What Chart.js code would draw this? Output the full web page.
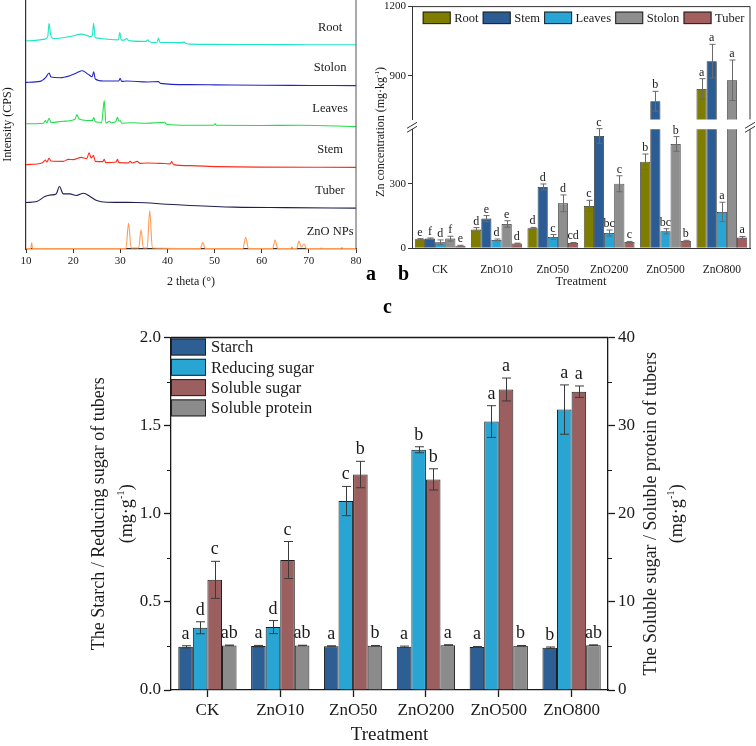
<!DOCTYPE html>
<html>
<head>
<meta charset="utf-8">
<title>ZnO NPs figure</title>
<script src="https://cdn.jsdelivr.net/npm/chart.js@4.4.1/dist/chart.umd.min.js"></script>
<style>
  html, body { margin:0; padding:0; background:#fff; }
  #fig { position:relative; width:756px; height:746px; overflow:hidden; background:#fff; }
  #fig canvas { position:absolute; }
  .panel-tag { position:absolute; font-family:'Liberation Serif','Times New Roman',serif; font-weight:bold; font-size:20px; line-height:20px; color:#000; }
</style>
</head>
<body>
<div id="fig">
  <canvas id="xrd" width="370" height="290" style="left:0;top:0;"></canvas>
  <canvas id="znLow" width="386" height="290" style="left:370px;top:0;"></canvas>
  <canvas id="znUp" width="386" height="130" style="left:370px;top:-2px;"></canvas>
  <canvas id="tuber" width="756" height="446" style="left:0;top:300px;"></canvas>
  <div class="panel-tag" style="left:366px;top:263px;">a</div>
  <div class="panel-tag" style="left:398px;top:263px;">b</div>
  <div class="panel-tag" style="left:383px;top:296px;">c</div>
</div>
<script>
// ================= DATA =================
// ---- Panel a: XRD patterns (2θ in degrees, relative counts above each trace's own baseline)
const xrdSamples = ['Root', 'Stolon', 'Leaves', 'Stem', 'Tuber', 'ZnO NPs'];
const xrdTicks = [10, 20, 30, 40, 50, 60, 70, 80];

const rootTheta  = [10, 12, 14, 14.6, 14.9, 15.2, 15.8, 19.3, 21.8, 23.6, 24.05, 24.35, 24.65, 25.2, 27.1, 29.6, 29.9, 30.2, 31.0, 31.35, 31.7, 32.2, 35.5, 35.8, 36.1, 37.0, 37.8, 38.1, 38.4, 38.8, 43.2, 43.5, 43.8, 44.8, 50, 60, 70, 80];
const rootCounts = [4, 4.5, 5.7, 8, 21.7, 10.7, 6.3, 8.3, 10.7, 8.3, 9, 21.7, 7.5, 6.7, 5.7, 5, 12.3, 4.7, 5, 6.3, 4.5, 4, 3.5, 5, 3.2, 2.3, 2.5, 6.7, 2.5, 2.3, 2.2, 3, 1.5, 0.7, 0.4, 0.3, 0.1, 0];

const stolonTheta  = [10, 13, 14.2, 14.9, 15.3, 17.2, 19.3, 20.7, 21.95, 23.2, 24.05, 24.35, 24.7, 26.4, 29.7, 29.95, 30.3, 31.35, 35.8, 38.1, 38.5, 44.8, 50, 60, 70, 80];
const stolonCounts = [3.3, 4.3, 8.3, 12.7, 8.7, 8, 10, 12.7, 15, 11.3, 9, 14, 6.7, 4.7, 4.7, 7.3, 4.3, 4.7, 3.7, 4, 2.3, 1, 0.8, 0.4, 0.2, 0];

const leavesTheta  = [10, 13.7, 14.1, 14.4, 14.9, 15.3, 17.9, 20.4, 20.8, 21.2, 22.9, 24.1, 24.35, 24.7, 26.05, 26.6, 26.95, 27.7, 28.0, 29.0, 29.4, 29.7, 30.0, 30.3, 32.1, 35.6, 39.4, 39.8, 44.8, 49.8, 50.1, 50.4, 59.8, 68.1, 80];
const leavesCounts = [2.7, 3.3, 6, 3.7, 8.3, 4, 5.3, 7.3, 12, 7.7, 6, 6, 9, 4.7, 4, 26, 3.3, 5.3, 3.7, 4.7, 9.3, 5.3, 6, 3.3, 3.7, 3.3, 4.3, 2.3, 1.3, 1.2, 2.7, 1.2, 1, 1.2, 0];

const stemTheta  = [10, 13.5, 14.1, 14.4, 14.9, 15.3, 17.9, 19.0, 20.0, 21.7, 22.9, 23.4, 23.8, 24.3, 24.7, 26.3, 26.6, 26.9, 29.1, 29.4, 29.7, 31.7, 32.1, 32.5, 33.6, 34.2, 35.6, 38.4, 40.6, 40.9, 41.3, 44.8, 50.8, 80];
const stemCounts = [2.7, 4.7, 7.3, 5.3, 9, 6.3, 6, 8, 7.7, 10, 8.7, 14.7, 9.3, 12, 6, 5.7, 8, 4.7, 5.3, 8, 4.7, 4.5, 6, 4.3, 6, 4, 4.3, 4, 3.5, 5.7, 2.7, 1.7, 0.7, 0];

const tuberTheta  = [10, 12.3, 14.0, 15.4, 16.4, 17.1, 17.9, 19.3, 20.7, 22.2, 23.6, 25.0, 27.1, 33.5, 39.8, 44.8, 54.3, 65, 80];
const tuberCounts = [5.7, 6.7, 11.7, 13.3, 14.3, 21.7, 14.3, 14.3, 12.7, 15, 11.7, 7.7, 6, 5.7, 4, 2.7, 1, 0.5, 0];

const znoTheta  = [10, 11.0, 11.2, 11.4, 31.2, 31.75, 32.3, 33.9, 34.4, 34.9, 35.7, 36.25, 36.8, 47.0, 47.5, 48.0, 56.0, 56.6, 57.2, 62.3, 62.85, 63.4, 66.2, 66.4, 66.6, 67.4, 67.9, 68.4, 69.0, 69.5, 72.4, 72.6, 72.8, 76.8, 77.0, 77.2, 80];
const znoCounts = [0.5, 0.5, 6.3, 0.5, 0.5, 25.7, 1, 1, 19, 1, 1, 38.3, 1, 0.5, 6.7, 0.5, 0.5, 11.7, 0.5, 0.5, 9, 0.5, 0.5, 2, 0.5, 0.5, 8, 2, 5, 0.5, 0.5, 1, 0.5, 0.5, 1.5, 0.5, 0.5];

// ---- Panel b: Zn concentration (mg·kg-1)
const treatments = ['CK', 'ZnO10', 'ZnO50', 'ZnO200', 'ZnO500', 'ZnO800'];
const organs = ['Root', 'Stem', 'Leaves', 'Stolon', 'Tuber'];
const rootZn      = [42, 87, 93, 197, 402, 842];
const rootZnErr   = [3, 9, 4, 26, 36, 45];
const stemZn      = [45, 138, 285, 522, 789, 963];
const stemZnErr   = [3, 14, 14, 34, 43, 73];
const leavesZn    = [28, 39, 53, 71, 79, 169];
const leavesZnErr = [11, 4, 11, 14, 12, 45];
const stolonZn    = [45, 113, 209, 300, 485, 880];
const stolonZnErr = [11, 15, 39, 37, 34, 88];
const tuberZn     = [12, 22, 25, 29, 34, 50];
const tuberZnErr  = [2, 2, 2, 3, 3, 5];
const rootZnLetters   = ['e', 'd', 'd', 'c', 'b', 'a'];
const stemZnLetters   = ['f', 'e', 'd', 'c', 'b', 'a'];
const leavesZnLetters = ['d', 'd', 'c', 'bc', 'bc', 'a'];
const stolonZnLetters = ['f', 'e', 'd', 'c', 'b', 'a'];
const tuberZnLetters  = ['e', 'd', 'cd', 'c', 'b', 'a'];
const znLowerTicks = [0, 300];
const znUpperTicks = [900, 1200];
const znLowerRange = [0, 553];     // lower segment of the broken axis
const znUpperRange = [710, 1200];  // upper segment of the broken axis

// ---- Panel c: tuber quality
const tuberTraits = ['Starch', 'Reducing sugar', 'Soluble sugar', 'Soluble protein'];
const starch            = [0.245, 0.249, 0.248, 0.245, 0.244, 0.240];
const starchErr         = [0.006, 0.004, 0.003, 0.004, 0.003, 0.004];
const reducingSugar     = [0.353, 0.357, 1.072, 1.363, 1.523, 1.591];
const reducingSugarErr  = [0.034, 0.037, 0.083, 0.017, 0.09, 0.14];
const solubleSugar      = [12.5, 14.75, 24.45, 23.9, 34.1, 33.85];
const solubleSugarErr   = [2.1, 2.1, 1.5, 1.2, 1.3, 0.65];
const solubleProtein    = [5.06, 5.05, 5.02, 5.09, 5.02, 5.09];
const solubleProteinErr = [0.04, 0.03, 0.03, 0.05, 0.03, 0.03];
const starchLetters   = ['a', 'a', 'a', 'a', 'a', 'b'];
const reducingLetters = ['d', 'd', 'c', 'b', 'a', 'a'];
const sugarLetters    = ['c', 'c', 'b', 'b', 'a', 'a'];
const proteinLetters  = ['ab', 'ab', 'b', 'a', 'b', 'ab'];
const leftTicks  = [0, 0.5, 1.0, 1.5, 2.0];
const leftMinor  = [0.25, 0.75, 1.25, 1.75];
const rightTicks = [0, 10, 20, 30, 40];
const rightMinor = [5, 15, 25, 35];

// ================= HELPERS =================
const F = "'Liberation Serif','Times New Roman',serif";
const INK = '#1a1a1a';
Chart.defaults.font.family = F;
Chart.defaults.color = INK;
Chart.defaults.animation = false;

function setTicks(list) { return s => { s.ticks = list.map(v => ({ value: v })); }; }

function errorBarsPlugin(cfg) {
  return {
    id: 'errorBars',
    afterDatasetsDraw(chart) {
      const ctx = chart.ctx;
      ctx.save();
      chart.data.datasets.forEach((ds, i) => {
        const meta = chart.getDatasetMeta(i);
        const ys = chart.scales[meta.yAxisID];
        meta.data.forEach((bar, j) => {
          const v = ds.data[j];
          if (cfg.range && (v < cfg.range[0] || v > cfg.range[1])) return;
          const e = ds.errors[j];
          const yt = ys.getPixelForValue(v + e), yb = ys.getPixelForValue(v - e);
          const x = Math.round(bar.x) + 0.5;
          ctx.strokeStyle = cfg.color; ctx.lineWidth = cfg.width;
          ctx.beginPath();
          ctx.moveTo(x, yt); ctx.lineTo(x, yb);
          ctx.moveTo(x - cfg.cap, yt); ctx.lineTo(x + cfg.cap, yt);
          ctx.moveTo(x - cfg.cap, yb); ctx.lineTo(x + cfg.cap, yb);
          ctx.stroke();
          ctx.fillStyle = cfg.textColor; ctx.font = cfg.font;
          ctx.textAlign = 'center'; ctx.textBaseline = 'alphabetic';
          ctx.fillText(ds.letters[j], bar.x, yt - cfg.gap);
        });
      });
      ctx.restore();
    }
  };
}

function boxLegendPlugin(cfg) {
  return {
    id: 'boxLegend',
    afterDraw(chart) {
      const ctx = chart.ctx, ca = chart.chartArea;
      ctx.save();
      ctx.font = cfg.font; ctx.textBaseline = 'middle'; ctx.textAlign = 'left';
      let x = ca.left + cfg.dx, y = ca.top + cfg.dy;
      chart.data.datasets.forEach(ds => {
        ctx.fillStyle = ds.backgroundColor;
        ctx.fillRect(x, y, cfg.boxW, cfg.boxH);
        ctx.strokeStyle = '#222'; ctx.lineWidth = 1;
        ctx.strokeRect(x + 0.5, y + 0.5, cfg.boxW - 1, cfg.boxH - 1);
        ctx.fillStyle = INK;
        ctx.fillText(ds.label, x + cfg.boxW + cfg.textGap, y + cfg.boxH / 2 + 1);
        if (cfg.row) x += cfg.boxW + cfg.textGap + ctx.measureText(ds.label).width + cfg.itemGap;
        else y += cfg.pitch;
      });
      ctx.restore();
    }
  };
}

function framePlugin(cfg) {
  return {
    id: 'frame',
    afterDraw(chart) {
      const ctx = chart.ctx, ca = chart.chartArea;
      ctx.save();
      ctx.strokeStyle = cfg.color; ctx.lineWidth = cfg.width;
      ctx.beginPath();
      if (cfg.top) { ctx.moveTo(ca.left, ca.top); ctx.lineTo(ca.right, ca.top); }
      if (cfg.right) { ctx.moveTo(ca.right, ca.top); ctx.lineTo(ca.right, ca.bottom); }
      ctx.stroke();
      ctx.restore();
    }
  };
}

function minorTicksPlugin(list, len, color, width) {
  return {
    id: 'minorTicks',
    afterDraw(chart) {
      const ctx = chart.ctx;
      ctx.save(); ctx.strokeStyle = color; ctx.lineWidth = width;
      ctx.beginPath();
      list.forEach(a => {
        const sc = chart.scales[a.id];
        const x0 = a.side === 'left' ? sc.right : sc.left;
        const dir = a.side === 'left' ? -1 : 1;
        a.values.forEach(v => {
          const y = Math.round(sc.getPixelForValue(v)) + 0.5;
          ctx.moveTo(x0, y); ctx.lineTo(x0 + dir * len, y);
        });
      });
      ctx.stroke(); ctx.restore();
    }
  };
}

// draws text rotated -90° (reading bottom to top); segments may be superscript
function drawVText(ctx, segments, cx, cy, size) {
  const fN = size + 'px ' + F, fS = Math.round(size * 0.62) + 'px ' + F;
  ctx.save();
  ctx.translate(cx, cy); ctx.rotate(-Math.PI / 2);
  ctx.textBaseline = 'middle'; ctx.textAlign = 'left'; ctx.fillStyle = INK;
  let total = 0;
  const widths = segments.map(s => { ctx.font = s.sup ? fS : fN; const w = ctx.measureText(s.t).width; total += w; return w; });
  let x = -total / 2;
  segments.forEach((s, k) => {
    ctx.font = s.sup ? fS : fN;
    ctx.fillText(s.t, x, s.sup ? -size * 0.33 : 0);
    x += widths[k];
  });
  ctx.restore();
}

// ================= PANEL a =================
const TRACE_STEP = 41;          // vertical offset between stacked patterns
const XRD_LABEL_THETA = 74.5;
const XRD_LABEL_RISE = 17.6;
const xrdThetas = [rootTheta, stolonTheta, leavesTheta, stemTheta, tuberTheta, znoTheta];
const xrdCounts = [rootCounts, stolonCounts, leavesCounts, stemCounts, tuberCounts, znoCounts];
const xrdColors = ['#1de6c4', '#2424c8', '#1edf48', '#ff2d1a', '#1e1e55', '#ff9a55'];
const traceOffset = i => (xrdSamples.length - 1 - i) * TRACE_STEP;

const xrdDatasets = xrdSamples.map((name, i) => ({
  label: name,
  data: xrdThetas[i].map((t, k) => ({ x: t, y: xrdCounts[i][k] + traceOffset(i) })),
  borderColor: xrdColors[i],
  borderWidth: 1.1,
  pointRadius: 0,
  cubicInterpolationMode: 'monotone',
  fill: false
}));

const xrdLabelPlugin = {
  id: 'xrdLabels',
  afterDatasetsDraw(chart) {
    const { ctx, scales: { x, y } } = chart;
    ctx.save();
    ctx.font = '12.5px ' + F; ctx.fillStyle = INK;
    ctx.textAlign = 'center'; ctx.textBaseline = 'middle';
    xrdSamples.forEach((n, i) => {
      ctx.fillText(n, x.getPixelForValue(XRD_LABEL_THETA), y.getPixelForValue(traceOffset(i) + XRD_LABEL_RISE));
    });
    ctx.restore();
  }
};

new Chart(document.getElementById('xrd'), {
  type: 'line',
  data: { datasets: xrdDatasets },
  options: {
    responsive: false, animation: false, devicePixelRatio: 1,
    layout: { padding: { top: 0, right: 14, bottom: 0, left: 0 } },
    plugins: { legend: { display: false }, tooltip: { enabled: false } },
    scales: {
      x: {
        type: 'linear', min: 10, max: 80,
        afterBuildTicks: setTicks(xrdTicks),
        grid: { display: true, drawOnChartArea: false, tickLength: 4, tickColor: '#333', tickWidth: 1 },
        border: { color: '#333', width: 1.2 },
        ticks: { font: { size: 11 }, color: INK, padding: 2, maxRotation: 0, callback: v => String(v) },
        title: { display: true, text: '2 theta (°)', font: { size: 12 }, color: INK, padding: { top: 0, bottom: 1 } },
        afterFit: s => { s.height = 41; }
      },
      y: {
        type: 'linear', min: 0, max: 250,
        ticks: { display: false },
        grid: { display: false },
        border: { color: '#333', width: 1.2 },
        title: { display: true, text: 'Intensity (CPS)', font: { size: 12 }, color: INK, padding: { top: 1, bottom: 0 } },
        afterFit: s => { s.width = 26; }
      }
    }
  },
  plugins: [xrdLabelPlugin, framePlugin({ right: true, color: '#555', width: 1 })]
});

// ================= PANEL b =================
const znValues  = [rootZn, stemZn, leavesZn, stolonZn, tuberZn];
const znErrors  = [rootZnErr, stemZnErr, leavesZnErr, stolonZnErr, tuberZnErr];
const znLetters = [rootZnLetters, stemZnLetters, leavesZnLetters, stolonZnLetters, tuberZnLetters];
const znColors  = ['#7f7d00', '#2c5c94', '#29a5d5', '#8e8e8e', '#a35e5e'];

function znDatasets() {
  return organs.map((o, i) => ({
    label: o, data: znValues[i], errors: znErrors[i], letters: znLetters[i],
    backgroundColor: znColors[i], borderColor: '#2a2a2a', borderWidth: 0.8,
    categoryPercentage: 0.9, barPercentage: 1.0, clip: 0
  }));
}
const znErrCfg = { color: '#6a6a6a', width: 1, cap: 3, gap: 3, font: '12px ' + F, textColor: INK };
const znYAxis = (range, ticks) => ({
  min: range[0], max: range[1],
  afterBuildTicks: setTicks(ticks),
  grid: { display: true, drawOnChartArea: false, tickLength: 4, tickColor: '#333' },
  border: { color: '#333', width: 1 },
  ticks: { font: { size: 11 }, color: INK, padding: 2, callback: v => String(v) },
  afterFit: s => { s.width = 42; }
});

const znTitlePlugin = {
  id: 'znTitle',
  afterDraw(chart) {
    drawVText(chart.ctx, [{ t: 'Zn concentration (mg·kg' }, { t: '-1', sup: true }, { t: ')' }], 11, 132, 12);
  }
};
const breakMarksPlugin = {
  id: 'breakMarks',
  afterDraw(chart) {
    const { ctx, chartArea: ca } = chart;
    ctx.save(); ctx.strokeStyle = '#333'; ctx.lineWidth = 1;
    ctx.beginPath();
    [ca.left, ca.right].forEach(x => {
      [ca.top, ca.top - 4].forEach(y => { ctx.moveTo(x - 5, y + 3); ctx.lineTo(x + 5, y - 3); });
    });
    ctx.stroke(); ctx.restore();
  }
};

// lower segment
new Chart(document.getElementById('znLow'), {
  type: 'bar',
  data: { labels: treatments, datasets: znDatasets() },
  options: {
    responsive: false, animation: false, devicePixelRatio: 1,
    layout: { padding: { top: 129.3, right: 6, bottom: 0, left: 0 } },
    plugins: { legend: { display: false }, tooltip: { enabled: false } },
    scales: {
      x: {
        grid: { display: false },
        border: { color: '#333', width: 1 },
        ticks: { font: { size: 11.5 }, color: INK, padding: 7, maxRotation: 0, autoSkip: false },
        title: { display: true, text: 'Treatment', font: { size: 12.5 }, color: INK, padding: { top: 0, bottom: 1 } },
        afterFit: s => { s.height = 41.7; }
      },
      y: znYAxis(znLowerRange, znLowerTicks)
    }
  },
  plugins: [errorBarsPlugin(Object.assign({ range: znLowerRange }, znErrCfg)),
            framePlugin({ right: true, color: '#333', width: 1 }),
            breakMarksPlugin, znTitlePlugin]
});

// upper segment
new Chart(document.getElementById('znUp'), {
  type: 'bar',
  data: { labels: treatments, datasets: znDatasets() },
  options: {
    responsive: false, animation: false, devicePixelRatio: 1,
    layout: { padding: { top: 7, right: 6, bottom: 2.7, left: 0 } },
    plugins: { legend: { display: false }, tooltip: { enabled: false } },
    scales: {
      x: { display: false },
      y: znYAxis(znUpperRange, znUpperTicks)
    }
  },
  plugins: [errorBarsPlugin(Object.assign({ range: znUpperRange }, znErrCfg)),
            framePlugin({ top: true, right: true, color: '#333', width: 1 }),
            boxLegendPlugin({ font: '12.5px ' + F, dx: 10.7, dy: 5, boxW: 28, boxH: 12.5, textGap: 3.5, itemGap: 4.2, row: true })]
});

// ================= PANEL c =================
const tuberValues  = [starch, reducingSugar, solubleSugar, solubleProtein];
const tuberErrors  = [starchErr, reducingSugarErr, solubleSugarErr, solubleProteinErr];
const tuberLetters = [starchLetters, reducingLetters, sugarLetters, proteinLetters];
const tuberColors  = ['#2d5e94', '#29a5d4', '#9b5f60', '#8b8b8b'];
const tuberAxes    = ['y', 'y', 'y2', 'y2'];

const tuberTitlesPlugin = {
  id: 'tuberTitles',
  afterDraw(chart) {
    const ca = chart.chartArea, cy = (ca.top + ca.bottom) / 2, ctx = chart.ctx;
    drawVText(ctx, [{ t: 'The Starch / Reducing sugar of tubers' }], 99, cy, 18);
    drawVText(ctx, [{ t: '(mg·g' }, { t: '-1', sup: true }, { t: ')' }], 127, cy, 18);
    drawVText(ctx, [{ t: 'The Soluble sugar / Soluble protein of tubers' }], 651, cy, 18);
    drawVText(ctx, [{ t: '(mg·g' }, { t: '-1', sup: true }, { t: ')' }], 677, cy, 18);
  }
};

const tuberAxis = (pos, ticks, max, fmt, width) => ({
  position: pos, min: 0, max: max,
  afterBuildTicks: setTicks(ticks),
  grid: { display: true, drawOnChartArea: false, tickLength: 7, tickColor: INK, tickWidth: 1.3 },
  border: { color: INK, width: 1.3 },
  ticks: { font: { size: 17 }, color: INK, padding: 3, callback: fmt },
  afterFit: s => { s.width = width; }
});

new Chart(document.getElementById('tuber'), {
  type: 'bar',
  data: {
    labels: treatments,
    datasets: tuberTraits.map((t, i) => ({
      label: t, data: tuberValues[i], errors: tuberErrors[i], letters: tuberLetters[i],
      yAxisID: tuberAxes[i], backgroundColor: tuberColors[i], borderColor: '#1e1e1e', borderWidth: 1,
      categoryPercentage: 0.8, barPercentage: 1.0, clip: 0
    }))
  },
  options: {
    responsive: false, animation: false, devicePixelRatio: 1,
    layout: { padding: { top: 37.5, right: 0, bottom: 0, left: 0 } },
    plugins: { legend: { display: false }, tooltip: { enabled: false } },
    scales: {
      x: {
        grid: { display: true, drawOnChartArea: false, offset: false, tickLength: 7, tickColor: INK, tickWidth: 1.3 },
        border: { color: INK, width: 1.3 },
        ticks: { font: { size: 17 }, color: INK, padding: 3, maxRotation: 0, autoSkip: false },
        title: { display: true, text: 'Treatment', font: { size: 19 }, color: INK, padding: { top: 0, bottom: 0 } },
        afterFit: s => { s.height = 56; }
      },
      y: tuberAxis('left', leftTicks, 2, v => v.toFixed(1), 171),
      y2: tuberAxis('right', rightTicks, 40, v => String(v), 148)
    }
  },
  plugins: [errorBarsPlugin({ color: '#3a3a3a', width: 1, cap: 4.5, gap: 7, font: '18px ' + F, textColor: INK }),
            boxLegendPlugin({ font: '16.5px ' + F, dx: 0, dy: 1, boxW: 35, boxH: 17, textGap: 5, pitch: 20.3, row: false }),
            framePlugin({ top: true, color: INK, width: 1.3 }),
            minorTicksPlugin([{ id: 'y', side: 'left', values: leftMinor }, { id: 'y2', side: 'right', values: rightMinor }], 4, INK, 1.2),
            tuberTitlesPlugin]
});
</script>
</body>
</html>
